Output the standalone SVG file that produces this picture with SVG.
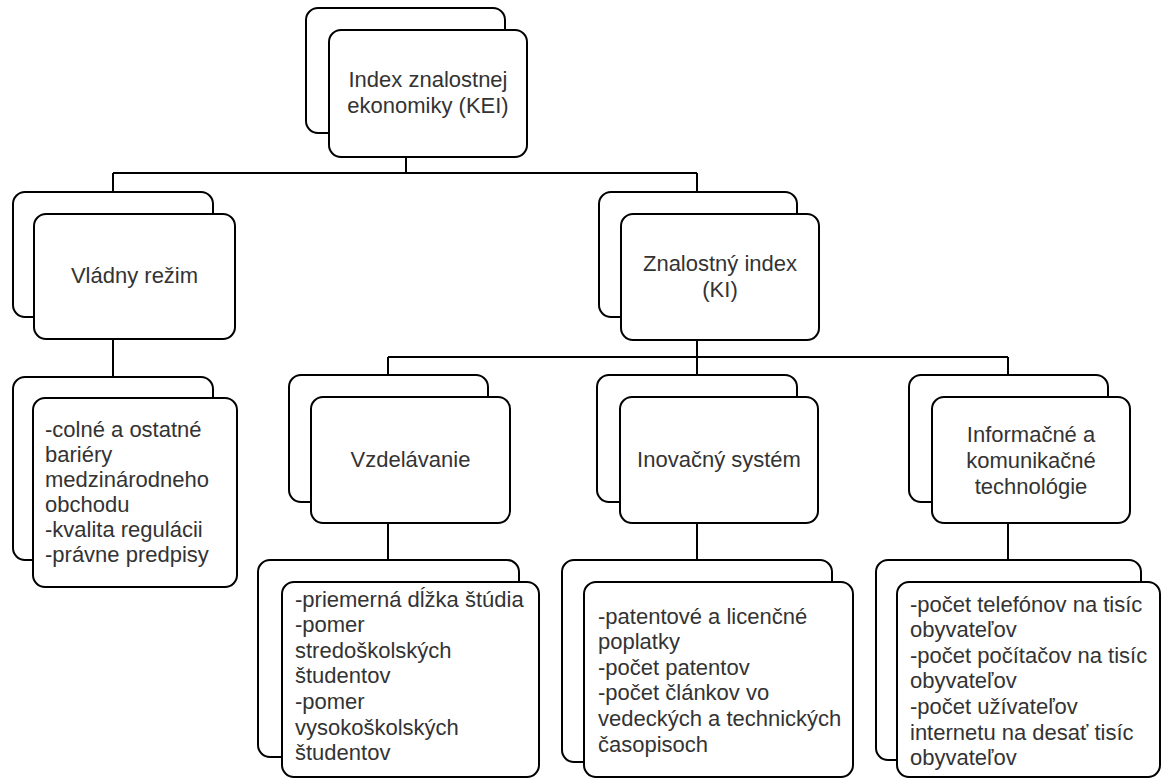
<svg xmlns="http://www.w3.org/2000/svg" width="1162" height="780" viewBox="0 0 1162 780">
<style>
.box{fill:#fff;stroke:#000;stroke-width:2}
.ln{fill:none;stroke:#000;stroke-width:2}
text{font-family:"Liberation Sans",Arial,sans-serif;font-size:22px;fill:#333}
.c{text-anchor:middle}
</style>
<rect width="1162" height="780" fill="#fff"/>
<g id="connectors">
<path class="ln" d="M406 157V173M113 173H697M113 173V192M697 173V192"/>
<path class="ln" d="M113 339V377"/>
<path class="ln" d="M697 340V357M388 357H1008M388 357V375M697 357V375M1008 357V375"/>
<path class="ln" d="M388 523V560M697 523V560M1008 523V560"/>
</g>
<g id="kei">
<rect class="box" x="306" y="8" width="199" height="125" rx="12"/>
<rect class="box" x="329" y="30" width="198" height="127" rx="12"/>
<text class="c" x="428" y="87">Index znalostnej</text>
<text class="c" x="428" y="113">ekonomiky (KEI)</text>
</g>
<g id="vladny">
<rect class="box" x="13" y="192" width="200" height="125" rx="12"/>
<rect class="box" x="34" y="214" width="201" height="125" rx="12"/>
<text class="c" x="134.5" y="283">Vládny režim</text>
</g>
<g id="vladny-detail">
<rect class="box" x="13" y="377" width="200" height="183" rx="12"/>
<rect class="box" x="33" y="398" width="204" height="189" rx="12"/>
<text x="45" y="437">-colné a ostatné</text>
<text x="45" y="462">bariéry</text>
<text x="45" y="487">medzinárodneho</text>
<text x="45" y="512">obchodu</text>
<text x="45" y="537">-kvalita regulácii</text>
<text x="45" y="562">-právne predpisy</text>
</g>
<g id="ki">
<rect class="box" x="599" y="192" width="198" height="125" rx="12"/>
<rect class="box" x="621" y="214" width="198" height="126" rx="12"/>
<text class="c" x="720" y="271">Znalostný index</text>
<text class="c" x="720" y="297">(KI)</text>
</g>
<g id="vzdelavanie">
<rect class="box" x="289" y="375" width="199" height="127" rx="12"/>
<rect class="box" x="311" y="397" width="199" height="126" rx="12"/>
<text class="c" x="410.5" y="467">Vzdelávanie</text>
</g>
<g id="inovacny">
<rect class="box" x="597" y="375" width="200" height="127" rx="12"/>
<rect class="box" x="620" y="397" width="198" height="126" rx="12"/>
<text class="c" x="719" y="467">Inovačný systém</text>
</g>
<g id="ikt">
<rect class="box" x="909" y="375" width="199" height="127" rx="12"/>
<rect class="box" x="932" y="397" width="198" height="126" rx="12"/>
<text class="c" x="1031" y="442">Informačné a</text>
<text class="c" x="1031" y="468">komunikačné</text>
<text class="c" x="1031" y="494">technológie</text>
</g>
<g id="vzdelavanie-detail">
<rect class="box" x="258" y="560" width="261" height="197" rx="12"/>
<rect class="box" x="282" y="582" width="257" height="195" rx="12"/>
<text x="295" y="607">-priemerná dĺžka štúdia</text>
<text x="295" y="632">-pomer</text>
<text x="295" y="658">stredoškolských</text>
<text x="295" y="683">študentov</text>
<text x="295" y="709">-pomer</text>
<text x="295" y="735">vysokoškolských</text>
<text x="295" y="760">študentov</text>
</g>
<g id="inovacny-detail">
<rect class="box" x="562" y="560" width="270" height="202" rx="12"/>
<rect class="box" x="584" y="582" width="269" height="195" rx="12"/>
<text x="598" y="624">-patentové a licenčné</text>
<text x="598" y="649">poplatky</text>
<text x="598" y="675">-počet patentov</text>
<text x="598" y="700">-počet článkov vo</text>
<text x="598" y="726">vedeckých a technických</text>
<text x="598" y="752">časopisoch</text>
</g>
<g id="ikt-detail">
<rect class="box" x="876" y="560" width="265" height="200" rx="12"/>
<rect class="box" x="897" y="582" width="263" height="195" rx="12"/>
<text x="910" y="612">-počet telefónov na tisíc</text>
<text x="910" y="637">obyvateľov</text>
<text x="910" y="663">-počet počítačov na tisíc</text>
<text x="910" y="688">obyvateľov</text>
<text x="910" y="714">-počet užívateľov</text>
<text x="910" y="740">internetu na desať tisíc</text>
<text x="910" y="765">obyvateľov</text>
</g>
</svg>
